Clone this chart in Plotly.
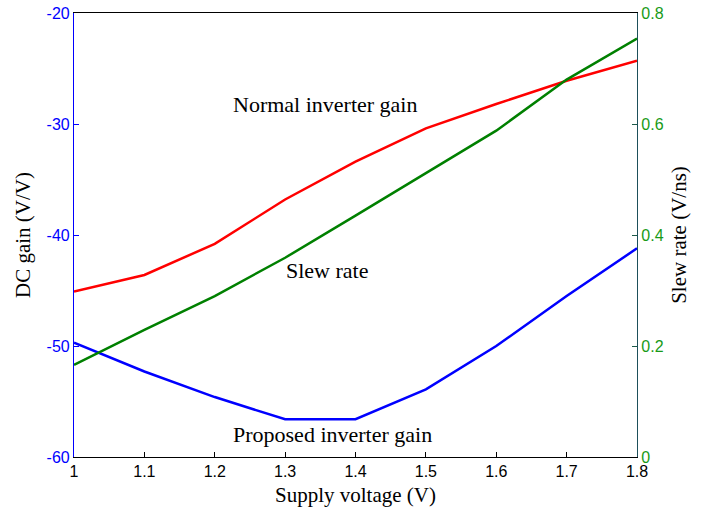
import plotly.graph_objects as go

voltage = [1.0, 1.1, 1.2, 1.3, 1.4, 1.5, 1.6, 1.7, 1.8]
normal_gain = [-45.1, -43.6, -40.8, -36.8, -33.4, -30.4, -28.2, -26.1, -24.3]
proposed_gain = [-49.7, -52.3, -54.6, -56.6, -56.6, -53.9, -50.0, -45.5, -41.2]
slew_rate = [0.166, 0.229, 0.290, 0.359, 0.435, 0.512, 0.588, 0.680, 0.754]

x_ticks = [1.0, 1.1, 1.2, 1.3, 1.4, 1.5, 1.6, 1.7, 1.8]
x_ticktext = ["1", "1.1", "1.2", "1.3", "1.4", "1.5", "1.6", "1.7", "1.8"]
left_ticks = [-60, -50, -40, -30, -20]
left_ticktext = ["-60", "-50", "-40", "-30", "-20"]
right_ticks = [0, 0.2, 0.4, 0.6, 0.8]
right_ticktext = ["0", "0.2", "0.4", "0.6", "0.8"]

serif = "Liberation Serif, Times New Roman, serif"
sans = "Liberation Sans, Arial, sans-serif"
green = "#008000"

fig = go.Figure()
fig.add_trace(go.Scatter(x=voltage, y=normal_gain, mode="lines",
                         line=dict(color="#ff0000", width=2.5), showlegend=False))
fig.add_trace(go.Scatter(x=voltage, y=proposed_gain, mode="lines",
                         line=dict(color="#0000ff", width=2.5), showlegend=False))
fig.add_trace(go.Scatter(x=voltage, y=slew_rate, mode="lines", yaxis="y2",
                         line=dict(color=green, width=2.5), showlegend=False))

fig.add_annotation(x=1.358, y=-28.2, text="Normal inverter gain", showarrow=False,
                   font=dict(family=serif, size=22, color="black"))
fig.add_annotation(x=1.359, y=-43.2, text="Slew rate", showarrow=False,
                   font=dict(family=serif, size=22, color="black"))
fig.add_annotation(x=1.368, y=-57.95, text="Proposed inverter gain", showarrow=False,
                   font=dict(family=serif, size=22, color="black"))

fig.update_layout(
    width=711, height=510,
    margin=dict(l=74, r=74, t=13, b=53),
    plot_bgcolor="white", paper_bgcolor="white",
    xaxis=dict(range=[1.0, 1.8], tickvals=x_ticks, ticktext=x_ticktext, automargin=False,
               showgrid=False, zeroline=False, showline=True, linecolor="black",
               linewidth=1.2, mirror=True, ticks="inside", ticklen=5, tickcolor="black",
               tickfont=dict(family=sans, size=16, color="black"),
               title=dict(text="Supply voltage (V)", font=dict(family=serif, size=21, color="black"),
                          standoff=8)),
    yaxis=dict(range=[-60, -20], tickvals=left_ticks, ticktext=left_ticktext, automargin=False,
               showgrid=False, zeroline=False, showline=True, linecolor="#0000ff",
               linewidth=1.2, ticks="inside", ticklen=5, tickcolor="#0000ff",
               tickfont=dict(family=sans, size=16, color="#0000ff"),
               title=dict(text="DC gain (V/V)", font=dict(family=serif, size=21, color="black"),
                          standoff=10)),
    yaxis2=dict(range=[0, 0.8], tickvals=right_ticks, ticktext=right_ticktext,
                overlaying="y", side="right", automargin=False,
                showgrid=False, zeroline=False, showline=True, linecolor="#1d4f5a",
                linewidth=1.2, ticks="inside", ticklen=5, tickcolor="#1d5a4a",
                tickfont=dict(family=sans, size=16, color="#189a18"),
                title=dict(text="Slew rate (V/ns)", font=dict(family=serif, size=21, color="black"),
                           standoff=8)),
)

fig.write_html("out.html")
